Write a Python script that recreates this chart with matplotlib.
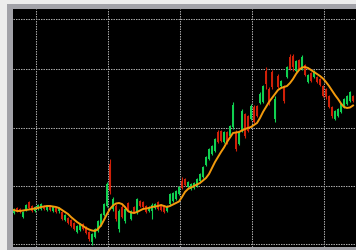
import matplotlib
matplotlib.use("Agg")
import matplotlib.pyplot as plt
from matplotlib.patches import Rectangle

opens = [37, 42, 41, 33, 40, 48, 44, 39, 41, 41, 44, 40, 44, 39, 42, 39, 38, 30, 32, 30,
         27, 18, 20, 26, 23, 18, 8, 13, 19, 25, 35, 44, 86, 41, 44, 21, 43, 29, 47, 31,
         43, 38, 49, 48, 44, 39, 39, 42, 48, 45, 44, 39, 46, 49, 51, 56, 69, 71, 63, 61,
         62, 64, 69, 73, 85, 91, 96, 99, 118, 119, 108, 118, 114, 123, 118, 106, 119, 136, 134, 131,
         143, 144, 147, 148, 179, 161, 178, 131, 174, 164, 164, 173, 193, 194, 179, 190, 181, 185, 168, 177,
         173, 173, 171, 164, 161, 154, 143, 131, 134, 138, 143, 146, 149, 154]
highs = [42, 43, 42, 39, 46, 49, 45, 44, 46, 47, 45, 44, 45, 44, 43, 43, 39, 36, 33, 31,
         28, 25, 27, 27, 24, 19, 17, 22, 30, 37, 47, 68, 91, 53, 46, 41, 45, 42, 48, 40,
         44, 52, 50, 49, 45, 44, 47, 47, 49, 46, 45, 45, 57, 58, 60, 64, 73, 72, 69, 67,
         68, 72, 77, 84, 94, 102, 105, 112, 120, 120, 119, 119, 125, 148, 120, 119, 141, 137, 135, 146,
         145, 145, 158, 165, 183, 163, 180, 154, 176, 170, 165, 184, 196, 196, 190, 191, 195, 186, 176, 178,
         180, 174, 172, 165, 162, 155, 144, 140, 142, 147, 152, 155, 159, 155]
lows = [36, 38, 37, 32, 39, 41, 38, 38, 40, 40, 40, 39, 39, 38, 37, 37, 30, 29, 26, 23,
        20, 17, 19, 20, 16, 9, 5, 12, 18, 24, 34, 43, 56, 39, 29, 18, 32, 27, 38, 30,
        37, 36, 43, 42, 37, 38, 31, 41, 40, 39, 37, 38, 45, 48, 50, 55, 61, 64, 62, 60,
        61, 63, 68, 72, 84, 90, 95, 98, 107, 108, 107, 106, 113, 121, 99, 105, 118, 112, 118, 130,
        127, 133, 146, 147, 161, 145, 161, 128, 162, 163, 147, 172, 180, 179, 178, 180, 180, 174, 167, 168,
        172, 167, 164, 153, 151, 142, 132, 130, 133, 137, 142, 145, 148, 148]
closes = [41, 39, 38, 38, 45, 42, 39, 43, 45, 46, 41, 43, 40, 43, 38, 42, 31, 35, 27, 24,
          21, 24, 26, 21, 17, 11, 16, 21, 29, 36, 46, 66, 59, 51, 31, 39, 33, 41, 39, 39,
          38, 51, 44, 43, 38, 43, 45, 46, 41, 40, 38, 44, 56, 57, 59, 63, 62, 65, 68, 66,
          67, 71, 76, 83, 93, 101, 104, 111, 108, 109, 118, 108, 124, 145, 101, 118, 139, 114, 119, 144,
          128, 134, 156, 164, 166, 146, 163, 151, 163, 169, 149, 183, 181, 183, 189, 181, 193, 175, 175, 169,
          179, 168, 165, 154, 153, 143, 134, 139, 141, 146, 151, 154, 158, 149]
moving_avg = [40, 39, 39, 39.5, 40, 40.5, 41, 41.5, 42, 43, 43.5, 44, 44, 43.5, 43, 42, 40, 38, 36, 33,
              30.5, 28, 26, 24, 22, 20.5, 19.5, 19, 21, 24.5, 30, 36, 41, 44.5, 46.5, 47, 46, 43, 39, 37.5,
              37, 38, 39.5, 41, 41.5, 42, 43, 43.5, 44, 45, 44, 43, 44, 45.5, 47, 48.5, 53, 58, 61, 62.5,
              64, 65.5, 67, 69.5, 72, 76, 82, 88, 93, 98, 102.5, 108, 112.5, 117, 117.5, 118, 119.5, 121, 122, 123,
              125, 127, 132, 138, 143, 148, 152, 156, 160, 162, 163, 164, 167, 171, 176, 180, 182.5, 183, 182, 180,
              178, 176, 174, 171.5, 168, 164, 159.5, 155, 151, 146.5, 143, 142, 142.5, 144.5]
grid_x = [7.33, 31.33, 55.33, 79.33, 103.33]
grid_y = [231, 181.5, 122.5, 64, 6]

W, H = 356, 251
fig = plt.figure(figsize=(W / 100, H / 100), dpi=100, facecolor="#ececec")
border = Rectangle((7 / W, 0), 1, 246 / H, transform=fig.transFigure,
                   facecolor="#a2a2a8", edgecolor="none", zorder=-10)
fig.add_artist(border)
ax = fig.add_axes([12.7 / W, 3 / H, (W - 12.7) / W, (248 - 10) / H], zorder=5)
ax.set_facecolor("black")
for s in ax.spines.values():
    s.set_visible(False)
ax.set_xlim(-0.43, 114)
ax.set_ylim(3, 241)
ax.set_xticks(grid_x)
ax.set_yticks(grid_y)
ax.tick_params(length=0, labelleft=False, labelbottom=False)
ax.grid(True, color="#a8a8a8", linestyle=(0, (1.4, 1.0)), linewidth=0.75)
ax.set_axisbelow(True)

green = "#10d050"
red = "#d02008"
xs = list(range(len(opens)))
for i in xs:
    o, h, l, c = opens[i], highs[i], lows[i], closes[i]
    col = green if c >= o else red
    ax.vlines(i, l, h, color=col, linewidth=0.8, zorder=2)
    ax.bar(i, max(abs(c - o), 1), bottom=min(o, c), width=0.72, color=col,
           edgecolor="none", zorder=2)
ax.plot(xs, moving_avg, color="#f39a0c", linewidth=1.4, zorder=3)

fig.savefig("out.png", dpi=100, facecolor=fig.get_facecolor())
